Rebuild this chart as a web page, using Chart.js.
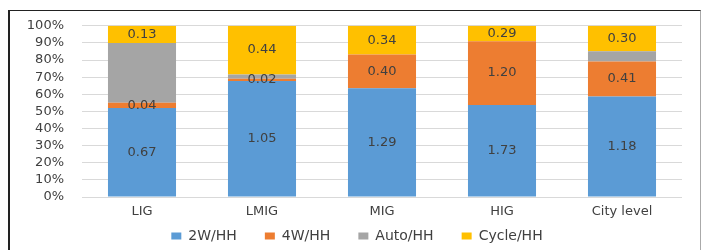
<!DOCTYPE html>
<html lang="en">
<head>
  <meta charset="UTF-8" />
  <title>Vehicles per household by income group</title>
  <script src="https://cdn.jsdelivr.net/npm/chart.js"></script>
  <style>
    html, body { margin: 0; padding: 0; background: #fff; }
    #wrap { position: relative; width: 702px; height: 250px; overflow: hidden; }
    #frame {
      position: absolute; left: 8px; top: 10px; width: 690px; height: 260px;
      border-left: 2px solid #222; border-top: 1px solid #222; border-right: 1px solid #aaa;
      pointer-events: none;
    }
    canvas { position: absolute; left: 0; top: 0; }
  </style>
</head>
<body>
  <div id="wrap">
    <canvas id="vehChart" width="702" height="250"></canvas>
    <div id="frame"></div>
  </div>

<script>
const groups = ["LIG", "LMIG", "MIG", "HIG", "City level"];

// vehicles per household
const twoWheeler = [0.67, 1.05, 1.29, 1.73, 1.18];
const fourWheeler = [0.04, 0.02, 0.40, 1.20, 0.41];
const autoRick = [0.45, 0.04, 0.00, 0.00, 0.12];
const cycle = [0.13, 0.44, 0.34, 0.29, 0.30];

const yTicks = [0, 10, 20, 30, 40, 50, 60, 70, 80, 90, 100];

const totals = groups.map((g, i) => twoWheeler[i] + fourWheeler[i] + autoRick[i] + cycle[i]);
const toShare = arr => arr.map((v, i) => v / totals[i] * 100);

const txtColor = '#404040';
const fontFam = '"DejaVu Sans", Verdana, sans-serif';

// draw the raw values in the middle of each segment
const valueLabels = {
  id: 'valueLabels',
  afterDatasetsDraw(chart) {
    const c = chart.ctx;
    c.save();
    c.font = '13px ' + fontFam;
    c.fillStyle = txtColor;
    c.textAlign = 'center';
    c.textBaseline = 'middle';
    chart.data.datasets.forEach((ds, di) => {
      if (!ds.showValues) return;
      const meta = chart.getDatasetMeta(di);
      meta.data.forEach((bar, i) => {
        const v = ds.raw[i];
        if (!v) return;
        const p = bar.getProps(['x', 'y', 'base'], true);
        c.fillText(v.toFixed(2), p.x, (p.y + p.base) / 2);
      });
    });
    c.restore();
  }
};

// legend sits a bit right of centre and closer to the axis labels
const nudgeLegend = {
  id: 'nudgeLegend',
  afterLayout(chart) {
    const lg = chart.legend;
    lg.top -= 22; lg.bottom -= 22;
    lg.left += 16; lg.right += 16;
  }
};

const ctx = document.getElementById('vehChart').getContext('2d');

const chart = new Chart(ctx, {
  type: 'bar',
  data: {
    labels: groups,
    datasets: [
      { label: '2W/HH', data: toShare(twoWheeler), raw: twoWheeler, showValues: true, backgroundColor: '#5B9BD5' },
      { label: '4W/HH', data: toShare(fourWheeler), raw: fourWheeler, showValues: true, backgroundColor: '#ED7D31' },
      { label: 'Auto/HH', data: toShare(autoRick), raw: autoRick, showValues: false, backgroundColor: '#A5A5A5' },
      { label: 'Cycle/HH', data: toShare(cycle), raw: cycle, showValues: true, backgroundColor: '#FFC000' }
    ]
  },
  options: {
    responsive: false,
    animation: false,
    barPercentage: 0.567,
    categoryPercentage: 1,
    layout: { padding: { top: 20, right: 20, left: 0, bottom: -25 } },
    scales: {
      x: {
        stacked: true,
        grid: { display: false, drawTicks: false },
        border: { display: false },
        ticks: { color: txtColor, font: { family: fontFam, size: 13 }, padding: 7 },
        afterFit: s => { s.height = 26; }
      },
      y: {
        stacked: true,
        min: 0,
        max: 100,
        afterBuildTicks: s => { s.ticks = yTicks.map(v => ({ value: v })); },
        grid: { color: '#d9d9d9', drawTicks: false },
        border: { display: false },
        ticks: {
          color: txtColor,
          font: { family: fontFam, size: 13 },
          padding: 18,
          autoSkip: false,
          callback: v => v + '%'
        },
        afterFit: s => { s.width = 82; }
      }
    },
    plugins: {
      legend: {
        position: 'bottom',
        labels: {
          color: txtColor,
          font: { family: fontFam, size: 14 },
          boxWidth: 10,
          boxHeight: 7,
          padding: 28
        }
      },
      tooltip: { enabled: false }
    }
  },
  plugins: [valueLabels, nudgeLegend]
});
</script>
</body>
</html>
